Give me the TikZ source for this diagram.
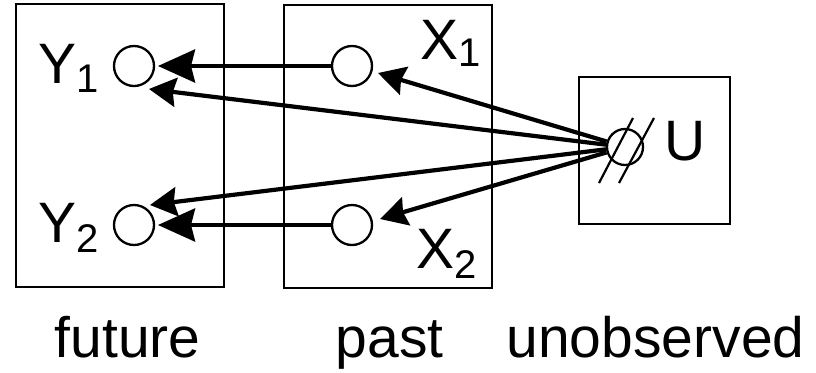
\documentclass[tikz,border=0pt]{standalone}
\usepackage{fontspec}
\setmainfont{Liberation Sans}
\usetikzlibrary{arrows.meta,calc}
\newcommand\mysub[2][10pt]{\raisebox{-#1}{\fontsize{40}{40}\selectfont #2}}
\begin{document}
\begin{tikzpicture}[x=1pt,y=-1pt,
  box/.style={draw, line width=2.7pt, inner sep=0pt},
  var/.style={circle, draw, line width=2.3pt, minimum size=40pt, inner sep=0pt},
  lab/.style={inner sep=0pt, anchor=base west, font=\fontsize{57}{60}\selectfont},
  caption/.style={inner sep=0pt, anchor=base, font=\fontsize{57}{60}\selectfont},
  big/.style={line width=4.2pt, -{Stealth[length=37pt,width=33pt,inset=4pt]}},
  small/.style={line width=4.2pt, -{Stealth[length=27pt,width=29pt,inset=3pt]}},
  slash/.style={line width=2.2pt},
]
\useasboundingbox (0,0) rectangle (816,372);
% boxes
\node[box, minimum width=208pt, minimum height=283pt] (future) at (120,145.5) {};
\node[box, minimum width=208pt, minimum height=283pt] (past) at (388,146.5) {};
\node[box, minimum width=151pt, minimum height=147pt] (unobs) at (654.5,150.5) {};
% variables
\node[var] (Y1) at (134,66) {};
\node[var] (Y2) at (134,225) {};
\node[var] (X1) at (352,66) {};
\node[var] (X2) at (352,225) {};
\node[var, minimum size=36pt] (U) at (625,147) {};
\draw[slash] ($(U)+(-26,36)$) -- ($(U)+(8,-29)$);
\draw[slash] ($(U)+(-6,36)$) -- ($(U)+(29,-29)$);
% variable labels
\node[lab] (Y1l) at (38,83) {Y\mysub[9pt]{1}};
\node[lab] (Y2l) at (38,242) {Y\mysub{2}};
\node[lab] (X1l) at (420,59) {X\mysub[7pt]{1}};
\node[lab] (X2l) at (416,268) {X\mysub{2}};
\node[lab] (Ul) at (664.6,160) {U};
% captions
\node[caption] (futurel) at (127.5,357) {future};
\node[caption] (pastl) at (389.5,357) {past};
\node[caption] (unobsl) at (655.5,357) {unobserved};
% arrows
\draw[big] (X1) -- ($(Y1)+(24,0)$);
\draw[big] (X2) -- ($(Y2)+(24,0)$);
\draw[small] (U) -- ($(Y1)+(15,23)$);
\draw[small] (U) -- ($(X1)+(26,7)$);
\draw[small] (U) -- ($(Y2)+(16,-20)$);
\draw[small] (U) -- ($(X2)+(28,-6)$);
\end{tikzpicture}
\end{document}
